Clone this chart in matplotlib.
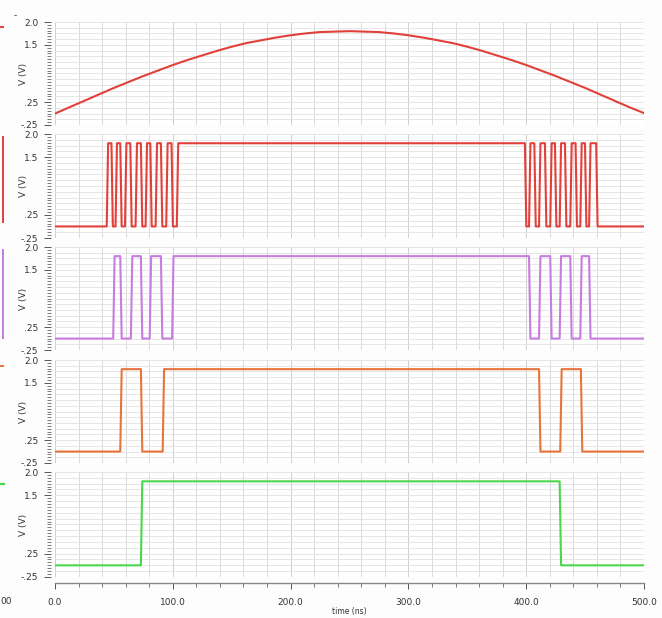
import numpy as np
import matplotlib
matplotlib.use("Agg")
import matplotlib.pyplot as plt
from matplotlib.ticker import MultipleLocator, FixedLocator, FixedFormatter

plt.rcParams["font.family"] = "DejaVu Sans"

# analog input (sine), read every 12.5 ns
sine_t = np.arange(0, 500.1, 12.5)
sine_v = [0.00, 0.14, 0.28, 0.42, 0.56, 0.69, 0.82, 0.94, 1.06, 1.17, 1.27,
          1.37, 1.46, 1.54, 1.60, 1.66, 1.71, 1.75, 1.78, 1.79, 1.80,
          1.79, 1.78, 1.75, 1.71, 1.66, 1.60, 1.54, 1.46, 1.37, 1.27,
          1.17, 1.06, 0.94, 0.82, 0.69, 0.56, 0.42, 0.28, 0.14, 0.01]

# edge times (ns) of the digital outputs, each starts low
bit0_edges = [44.5, 48.5, 52, 56, 60, 64.5, 69, 73.5, 77.5, 81.5, 86, 90.5, 95, 99.5, 104,
              399.5, 403, 407.5, 411.5, 416.5, 421, 425, 429, 433.5, 438, 442.5, 446.5,
              450.5, 454, 460]
bit1_edges = [50, 56, 65, 73.5, 81, 90.5, 100, 403, 411.5, 421, 429, 438, 446.5, 454]
bit2_edges = [56, 73.5, 92, 411.5, 429.5, 447]
bit3_edges = [73.5, 429]
v_low = 0.0
v_high = 1.8

colors = ["#e2403a", "#e2403a", "#c77ce0", "#e8743b", "#4cd64c"]
panel_px = [(22, 125), (134, 238), (247, 350), (360, 463), (472, 577)]

W, H = 662, 618
X0, X1 = 55, 644


def digital(edges, rt=1.2):
    t, v = [0.0], [v_low]
    cur = v_low
    for e in edges:
        new = v_high if cur == v_low else v_low
        t += [e - rt / 2, e + rt / 2]
        v += [cur, new]
        cur = new
    t.append(500.0)
    v.append(cur)
    return t, v


traces = [(sine_t, sine_v)] + [digital(e) for e in (bit0_edges, bit1_edges, bit2_edges, bit3_edges)]

fig = plt.figure(figsize=(W / 100, H / 100), dpi=100, facecolor="#fdfdfd")

for i, ((top, bot), (t, v)) in enumerate(zip(panel_px, traces)):
    ax = fig.add_axes([X0 / W, 1 - bot / H, (X1 - X0) / W, (bot - top) / H])
    ax.set_facecolor("white")
    ax.plot(t, v, color=colors[i], lw=1.5, solid_joinstyle="round")
    ax.set_xlim(0, 500)
    ax.set_ylim(-0.25, 2.0)

    for s in ["top", "right", "left", "bottom"]:
        ax.spines[s].set_visible(False)

    # grid
    for gx in np.arange(0, 501, 20):
        ax.axvline(gx, color="#d4d4d4" if gx % 100 else "#c8c8c8", lw=0.6, zorder=0)
    for gy in np.arange(-0.25, 2.01, 0.125):
        ax.axhline(gy, color="#e2e2e2", lw=0.6, zorder=0)

    # y ruler
    ax.spines["left"].set_position(("outward", 3))
    ax.yaxis.set_major_locator(FixedLocator([2.0, 1.5, 0.25, -0.25]))
    ax.yaxis.set_major_formatter(FixedFormatter(["2.0", "1.5", ".25", "-.25"]))
    ax.yaxis.set_minor_locator(MultipleLocator(0.0625))
    ax.tick_params(axis="y", which="major", length=5, width=0.7, color="#555555",
                   labelsize=6.5, labelcolor="#333333", pad=4)
    ax.tick_params(axis="y", which="minor", length=3, width=0.6, color="#666666")
    ax.set_ylabel("V (V)", fontsize=6.5, color="#333333")
    ax.yaxis.set_label_coords(-0.045, 0.5)

    if i < 4:
        ax.set_xticks([])
    else:
        ax.spines["bottom"].set_visible(True)
        ax.spines["bottom"].set_color("#888888")
        ax.spines["bottom"].set_linewidth(1.0)
        ax.spines["bottom"].set_position(("outward", 4))
        ax.xaxis.set_major_locator(MultipleLocator(100))
        ax.xaxis.set_minor_locator(MultipleLocator(20))
        ax.xaxis.set_major_formatter(plt.FuncFormatter(lambda x, _: f"{x:.1f}"))
        ax.tick_params(axis="x", which="major", length=4, width=0.7, color="#555555",
                       labelsize=6.5, labelcolor="#333333", pad=7)
        ax.tick_params(axis="x", which="minor", length=3, width=0.6, color="#666666")
        ax.set_xlabel("time (ns)", fontsize=5.5, color="#333333", labelpad=0)

# fragments of the neighbouring window at the left edge
side = fig.add_axes([0, 0, 8 / W, 1])
side.set_xlim(0, 8)
side.set_ylim(H, 0)
side.axis("off")
side.plot([0, 3], [27, 27], color=colors[0], lw=1.4)
side.plot([2.5, 2.5], [137, 222], color=colors[1], lw=1.4)
side.plot([2.5, 2.5], [250, 338], color=colors[2], lw=1.4)
side.plot([0, 3], [366, 366], color=colors[3], lw=1.4)
side.plot([0, 4], [484, 484], color=colors[4], lw=1.6)
fig.text(0.5 / W, 1 - 601 / H, "00", fontsize=6.5, color="#333333", va="center", ha="left")
fig.text(15 / W, 1 - 16 / H, "-", fontsize=6.5, color="#333333", va="center", ha="center")

fig.savefig("out.png", dpi=100, facecolor=fig.get_facecolor())
